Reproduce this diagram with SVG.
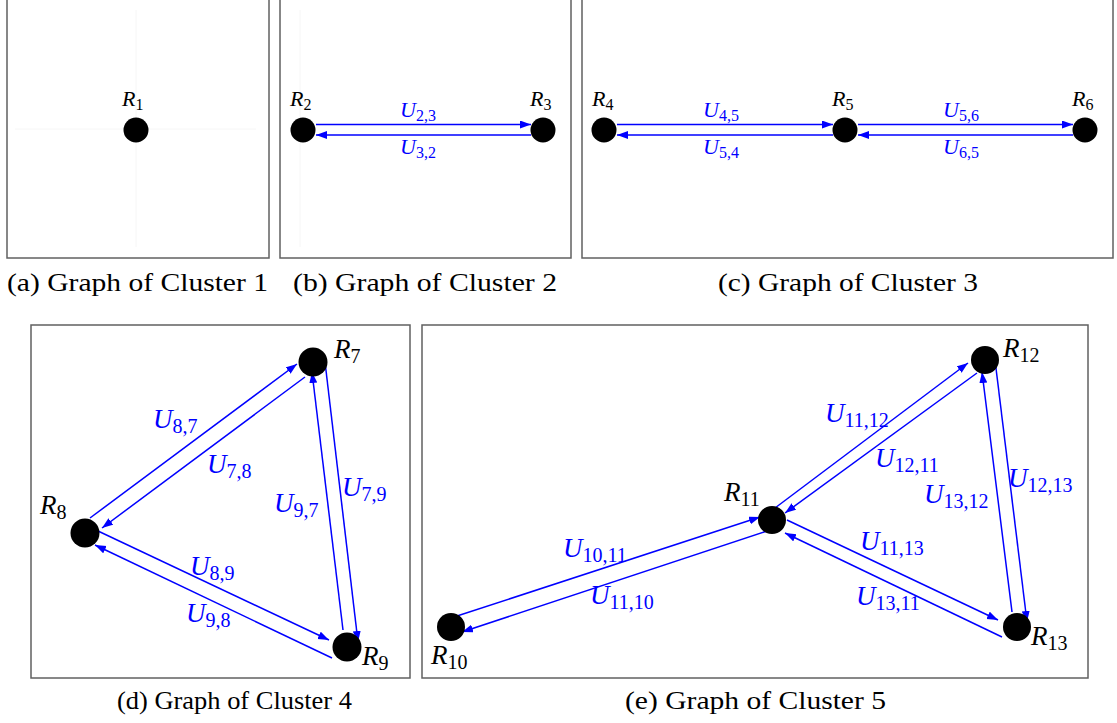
<svg xmlns="http://www.w3.org/2000/svg" width="1117" height="723" viewBox="0 0 1117 723">
<style>
.frame{fill:none;stroke:#606060;stroke-width:1.5}
.faint{stroke:#f6f6f6;stroke-width:1}
.node{fill:#000}
.edge{stroke:#0000ff;stroke-width:1.5;fill:none;marker-end:url(#ah)}
.lbl{font-family:"Liberation Serif",serif;fill:#000}
.ul{font-family:"Liberation Serif",serif;fill:#0000ff}
.it{font-style:italic}
.cap{font-family:"Liberation Serif",serif;font-size:25px;fill:#000}
.s{font-size:22px}
.b{font-size:27px}
</style>
<defs>
<marker id="ah" markerUnits="userSpaceOnUse" markerWidth="12" markerHeight="9" refX="11" refY="4" orient="auto">
<path d="M0,0 L11,4 L0,8 z" fill="#0000ff"/>
</marker>
</defs>
<rect width="1117" height="723" fill="#fff"/>
<g id="frames">
<rect class="frame" x="7" y="-2" width="262" height="260"/>
<rect class="frame" x="280" y="-2" width="291" height="260"/>
<rect class="frame" x="582" y="-2" width="531" height="260"/>
<rect class="frame" x="31" y="325" width="379" height="353"/>
<rect class="frame" x="422" y="325" width="666" height="353"/>
<line class="faint" x1="15" y1="129" x2="256" y2="129"/>
<line class="faint" x1="136" y1="10" x2="136" y2="247"/>
<line class="faint" x1="300" y1="10" x2="300" y2="247"/>
</g>
<g id="connectors">
<line class="edge" x1="316" y1="124.5" x2="531" y2="124.5"/>
<line class="edge" x1="531" y1="135" x2="316" y2="135"/>
<line class="edge" x1="617" y1="124.5" x2="833" y2="124.5"/>
<line class="edge" x1="833" y1="135" x2="617" y2="135"/>
<line class="edge" x1="858" y1="124.5" x2="1073" y2="124.5"/>
<line class="edge" x1="1073" y1="135" x2="858" y2="135"/>
<line class="edge" x1="90" y1="518" x2="297" y2="364"/>
<line class="edge" x1="305" y1="377" x2="102" y2="528"/>
<line class="edge" x1="325" y1="362" x2="358" y2="642"/>
<line class="edge" x1="343" y1="630" x2="312" y2="372"/>
<line class="edge" x1="98" y1="531" x2="329" y2="640"/>
<line class="edge" x1="332" y1="658" x2="95" y2="545"/>
<line class="edge" x1="457" y1="616" x2="760" y2="517"/>
<line class="edge" x1="767" y1="531" x2="462" y2="632"/>
<line class="edge" x1="775" y1="508" x2="968" y2="363"/>
<line class="edge" x1="977" y1="373" x2="785" y2="513"/>
<line class="edge" x1="787" y1="520" x2="998" y2="620"/>
<line class="edge" x1="1002" y1="637" x2="785" y2="533"/>
<line class="edge" x1="995" y1="360" x2="1027" y2="622"/>
<line class="edge" x1="1012" y1="612" x2="982" y2="372"/>
</g>
<g id="edge-labels">
<text class="ul s" x="400" y="117"><tspan class="it">U</tspan><tspan font-size="16" dy="4">2,3</tspan></text>
<text class="ul s" x="400" y="154"><tspan class="it">U</tspan><tspan font-size="16" dy="4">3,2</tspan></text>
<text class="ul s" x="703" y="117"><tspan class="it">U</tspan><tspan font-size="16" dy="4">4,5</tspan></text>
<text class="ul s" x="703" y="154"><tspan class="it">U</tspan><tspan font-size="16" dy="4">5,4</tspan></text>
<text class="ul s" x="943" y="117"><tspan class="it">U</tspan><tspan font-size="16" dy="4">5,6</tspan></text>
<text class="ul s" x="943" y="154"><tspan class="it">U</tspan><tspan font-size="16" dy="4">6,5</tspan></text>
<text class="ul b" x="153" y="428"><tspan class="it">U</tspan><tspan font-size="20" dy="5">8,7</tspan></text>
<text class="ul b" x="207" y="473"><tspan class="it">U</tspan><tspan font-size="20" dy="5">7,8</tspan></text>
<text class="ul b" x="342" y="496"><tspan class="it">U</tspan><tspan font-size="20" dy="5">7,9</tspan></text>
<text class="ul b" x="274" y="512"><tspan class="it">U</tspan><tspan font-size="20" dy="5">9,7</tspan></text>
<text class="ul b" x="190" y="575"><tspan class="it">U</tspan><tspan font-size="20" dy="5">8,9</tspan></text>
<text class="ul b" x="186" y="622"><tspan class="it">U</tspan><tspan font-size="20" dy="5">9,8</tspan></text>
<text class="ul b" x="563" y="557"><tspan class="it">U</tspan><tspan font-size="20" dy="5">10,11</tspan></text>
<text class="ul b" x="590" y="604"><tspan class="it">U</tspan><tspan font-size="20" dy="5">11,10</tspan></text>
<text class="ul b" x="825" y="422"><tspan class="it">U</tspan><tspan font-size="20" dy="5">11,12</tspan></text>
<text class="ul b" x="875" y="467"><tspan class="it">U</tspan><tspan font-size="20" dy="5">12,11</tspan></text>
<text class="ul b" x="1008" y="487"><tspan class="it">U</tspan><tspan font-size="20" dy="5">12,13</tspan></text>
<text class="ul b" x="924" y="503"><tspan class="it">U</tspan><tspan font-size="20" dy="5">13,12</tspan></text>
<text class="ul b" x="860" y="550"><tspan class="it">U</tspan><tspan font-size="20" dy="5">11,13</tspan></text>
<text class="ul b" x="856" y="605"><tspan class="it">U</tspan><tspan font-size="20" dy="5">13,11</tspan></text>
</g>
<g id="R1"><circle class="node" cx="136" cy="130" r="12.5"/><text class="lbl s" x="122" y="106"><tspan class="it">R</tspan><tspan font-size="16" dy="4">1</tspan></text></g>
<g id="R2"><circle class="node" cx="303" cy="130" r="12.5"/><text class="lbl s" x="290" y="106"><tspan class="it">R</tspan><tspan font-size="16" dy="4">2</tspan></text></g>
<g id="R3"><circle class="node" cx="543" cy="130" r="12.5"/><text class="lbl s" x="530" y="106"><tspan class="it">R</tspan><tspan font-size="16" dy="4">3</tspan></text></g>
<g id="R4"><circle class="node" cx="604" cy="130" r="12.5"/><text class="lbl s" x="592" y="106"><tspan class="it">R</tspan><tspan font-size="16" dy="4">4</tspan></text></g>
<g id="R5"><circle class="node" cx="845" cy="130" r="12.5"/><text class="lbl s" x="832" y="106"><tspan class="it">R</tspan><tspan font-size="16" dy="4">5</tspan></text></g>
<g id="R6"><circle class="node" cx="1085" cy="130" r="12.5"/><text class="lbl s" x="1072" y="106"><tspan class="it">R</tspan><tspan font-size="16" dy="4">6</tspan></text></g>
<g id="R7"><circle class="node" cx="313" cy="362" r="14.5"/><text class="lbl b" x="334" y="358"><tspan class="it">R</tspan><tspan font-size="20" dy="5">7</tspan></text></g>
<g id="R8"><circle class="node" cx="85" cy="533" r="14.5"/><text class="lbl b" x="40" y="514"><tspan class="it">R</tspan><tspan font-size="20" dy="5">8</tspan></text></g>
<g id="R9"><circle class="node" cx="347" cy="647" r="14.5"/><text class="lbl b" x="362" y="665"><tspan class="it">R</tspan><tspan font-size="20" dy="5">9</tspan></text></g>
<g id="R10"><circle class="node" cx="451" cy="627" r="14"/><text class="lbl b" x="431" y="664"><tspan class="it">R</tspan><tspan font-size="20" dy="5">10</tspan></text></g>
<g id="R11"><circle class="node" cx="772" cy="520" r="14"/><text class="lbl b" x="724" y="501"><tspan class="it">R</tspan><tspan font-size="20" dy="5">11</tspan></text></g>
<g id="R12"><circle class="node" cx="985" cy="360" r="14"/><text class="lbl b" x="1003" y="357"><tspan class="it">R</tspan><tspan font-size="20" dy="5">12</tspan></text></g>
<g id="R13"><circle class="node" cx="1017" cy="627" r="14"/><text class="lbl b" x="1031" y="645"><tspan class="it">R</tspan><tspan font-size="20" dy="5">13</tspan></text></g>
<g id="captions">
<text class="cap" x="7" y="291" textLength="261" lengthAdjust="spacingAndGlyphs">(a) Graph of Cluster 1</text>
<text class="cap" x="293" y="291" textLength="264" lengthAdjust="spacingAndGlyphs">(b) Graph of Cluster 2</text>
<text class="cap" x="718" y="291" textLength="260" lengthAdjust="spacingAndGlyphs">(c) Graph of Cluster 3</text>
<text class="cap" x="117" y="709" textLength="235" lengthAdjust="spacingAndGlyphs">(d) Graph of Cluster 4</text>
<text class="cap" x="625" y="709" textLength="261" lengthAdjust="spacingAndGlyphs">(e) Graph of Cluster 5</text>
</g>
</svg>
